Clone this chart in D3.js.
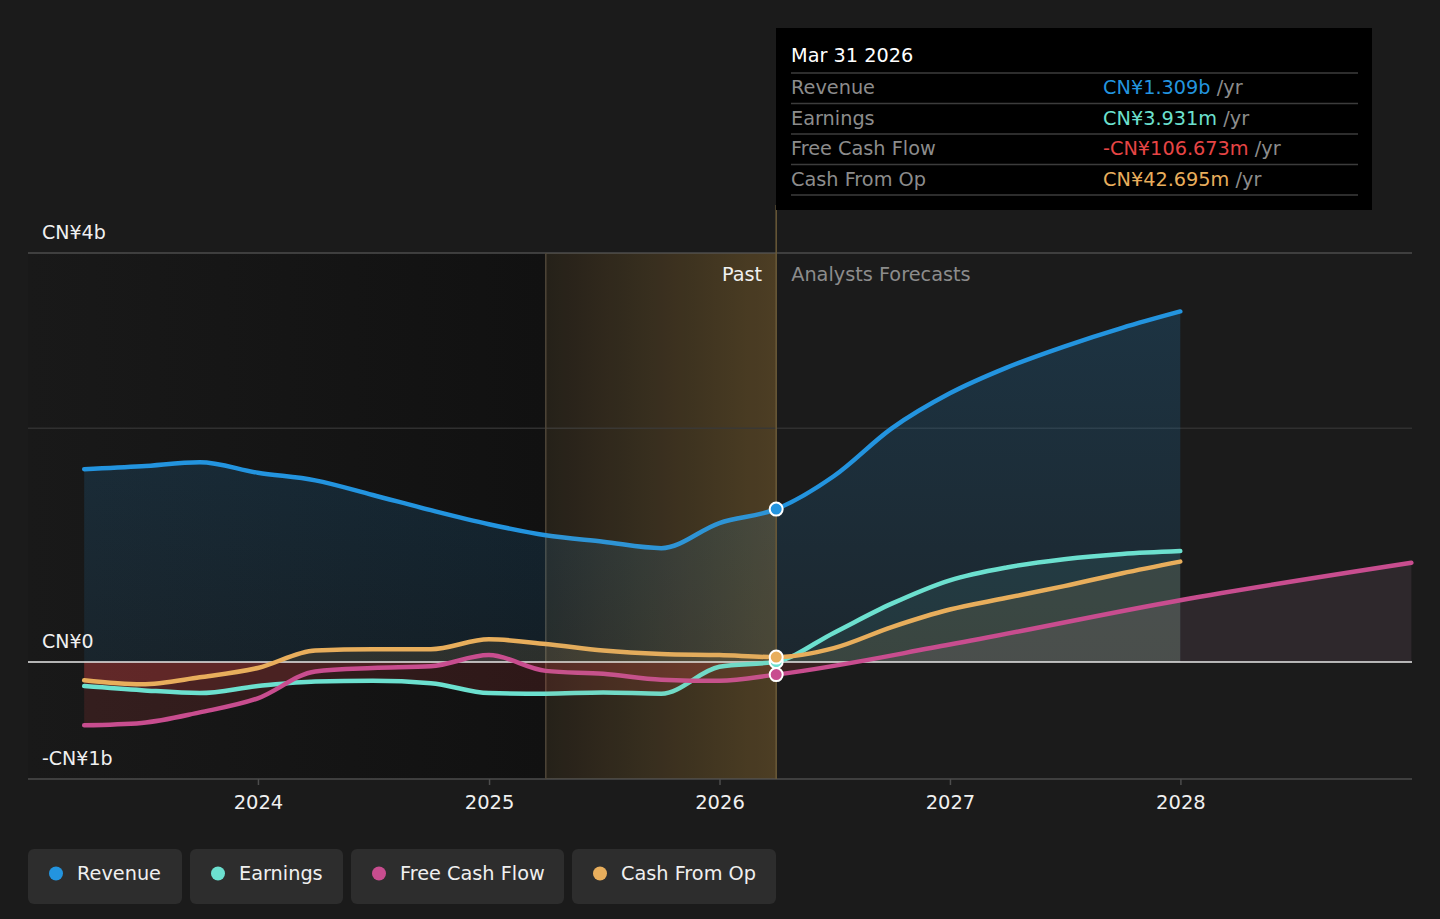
<!DOCTYPE html>
<html>
<head>
<meta charset="utf-8">
<script src="https://cdn.jsdelivr.net/npm/d3@7"></script>
<style>
    html, body { margin: 0; padding: 0; background: #1b1b1b; }
    svg { display: block; font-family: "DejaVu Sans", sans-serif; }
</style>
</head>
<body>
<div id="chart"></div>
<script>
// values in CN¥ billions
const pastDates = ["2023-03-31", "2023-06-30", "2023-09-30", "2023-12-31", "2024-03-31", "2024-06-30",
    "2024-09-30", "2024-12-31", "2025-03-31", "2025-06-30", "2025-09-30", "2025-12-31", "2026-03-31"];
const revenuePast = [1.65, 1.675, 1.71, 1.62, 1.555, 1.43, 1.30, 1.18, 1.085, 1.03, 0.975, 1.19, 1.309];
const earningsPast = [-0.205, -0.24, -0.265, -0.205, -0.165, -0.16, -0.18, -0.265, -0.27, -0.26, -0.27, -0.04, 0.004];
const fcfPast = [-0.54, -0.52, -0.43, -0.31, -0.08, -0.05, -0.035, 0.06, -0.075, -0.10, -0.15, -0.16, -0.107];
const cashOpPast = [-0.155, -0.19, -0.13, -0.05, 0.10, 0.11, 0.11, 0.195, 0.155, 0.10, 0.07, 0.06, 0.043];

const forecastDates = ["2026-03-31", "2026-06-30", "2026-09-30", "2026-12-31", "2027-03-31", "2027-06-30",
    "2027-09-30", "2027-12-31"];
const revenueForecast = [1.309, 1.59, 2.0, 2.30, 2.52, 2.70, 2.86, 3.0];
const earningsForecast = [0.004, 0.25, 0.50, 0.70, 0.81, 0.88, 0.925, 0.95];
const cashOpForecast = [0.043, 0.12, 0.30, 0.45, 0.55, 0.65, 0.76, 0.86];
const fcfForecastDates = ["2026-03-31", "2026-12-31", "2027-12-31", "2028-12-31"];
const fcfForecast = [-0.107, 0.15, 0.53, 0.85];

const seriesNames = ["Revenue", "Earnings", "Free Cash Flow", "Cash From Op"];
const seriesColors = ["#2394df", "#6ce0cf", "#c84d8f", "#e8ae5c"];
const tooltipValues = ["CN¥1.309b", "CN¥3.931m", "-CN¥106.673m", "CN¥42.695m"];
const tooltipColors = ["#2394df", "#6ce0cf", "#e64545", "#e8ae5c"];

const yTicks = [3.5, 0, -1];
const yTickLabels = ["CN¥4b", "CN¥0", "-CN¥1b"];
const yGrid = [3.5, 2, -1];
const xTicks = ["2024-01-01", "2025-01-01", "2026-01-01", "2027-01-01", "2028-01-01"];

const bandStart = "2025-03-31";
const nowDate = "2026-03-31";

function draw(container, width, height) {
    const parse = d3.utcParse("%Y-%m-%d");

    const x = d3.scaleUtc()
        .domain([parse("2023-01-01"), parse("2029-01-01")])
        .range([28, 1412]);

    const y = d3.scaleLinear()
        .domain([-1, 3.5])
        .range([779, 253]);

    const zip = (dates, vals) => dates.map((d, i) => ({date: parse(d), value: vals[i]}));

    const series = [
        zip(pastDates, revenuePast).concat(zip(forecastDates, revenueForecast).slice(1)),
        zip(pastDates, earningsPast).concat(zip(forecastDates, earningsForecast).slice(1)),
        zip(pastDates, fcfPast).concat(zip(fcfForecastDates, fcfForecast).slice(1)),
        zip(pastDates, cashOpPast).concat(zip(forecastDates, cashOpForecast).slice(1))
    ];

    const svg = d3.select(container).append("svg")
        .attr("width", width)
        .attr("height", height);

    const defs = svg.append("defs");

    const pastGrad = defs.append("linearGradient").attr("id", "pastGrad");
    pastGrad.append("stop").attr("offset", "0%").attr("stop-color", "#191919");
    pastGrad.append("stop").attr("offset", "100%").attr("stop-color", "#111111");

    const bandGrad = defs.append("linearGradient").attr("id", "bandGrad");
    bandGrad.append("stop").attr("offset", "0%").attr("stop-color", "#1a1713");
    bandGrad.append("stop").attr("offset", "100%").attr("stop-color", "#45371f");

    const revGrad = defs.append("linearGradient").attr("id", "revGrad")
        .attr("x1", 0).attr("x2", 0).attr("y1", 0).attr("y2", 1);
    revGrad.append("stop").attr("offset", "0%").attr("stop-color", "#2394df").attr("stop-opacity", 0.2);
    revGrad.append("stop").attr("offset", "100%").attr("stop-color", "#2394df").attr("stop-opacity", 0.1);

    const x0 = x.range()[0], x1 = x.range()[1];

    defs.append("clipPath").attr("id", "above")
        .append("rect")
        .attr("x", x0).attr("y", y(3.5))
        .attr("width", x1 - x0).attr("height", y(0) - y(3.5));
    defs.append("clipPath").attr("id", "below")
        .append("rect")
        .attr("x", x0).attr("y", y(0))
        .attr("width", x1 - x0).attr("height", y(-1) - y(0));

    // past background and the shaded last year
    svg.append("rect")
        .attr("x", x0).attr("y", y(3.5))
        .attr("width", x(parse(bandStart)) - x0)
        .attr("height", y(-1) - y(3.5))
        .attr("fill", "url(#pastGrad)");
    svg.append("rect")
        .attr("x", x(parse(bandStart))).attr("y", y(3.5))
        .attr("width", x(parse(nowDate)) - x(parse(bandStart)))
        .attr("height", y(-1) - y(3.5))
        .attr("fill", "url(#bandGrad)");

    svg.selectAll("line.grid")
        .data(yGrid)
        .enter().append("line")
            .attr("class", "grid")
            .attr("x1", x0).attr("x2", x1)
            .attr("y1", d => y(d)).attr("y2", d => y(d))
            .attr("stroke", d => d === 2 ? "#303030" : "#4d4d4d")
            .attr("stroke-width", 1.5);

    svg.append("line")
        .attr("x1", x(parse(bandStart))).attr("x2", x(parse(bandStart)))
        .attr("y1", y(3.5)).attr("y2", y(-1))
        .attr("stroke", "#4a4236").attr("stroke-width", 1.5);

    // areas
    const area = d3.area()
        .curve(d3.curveMonotoneX)
        .x(d => x(d.date))
        .y0(y(0))
        .y1(d => y(d.value));

    const fills = ["url(#revGrad)", "#6ce0cf", "#d8a0c0", "#e8ae5c"];
    const opac = [1, 0.09, 0.1, 0.12];
    series.forEach((s, i) => {
        svg.append("path")
            .datum(s)
            .attr("clip-path", "url(#above)")
            .attr("fill", fills[i])
            .attr("fill-opacity", opac[i])
            .attr("d", area);
        svg.append("path")
            .datum(s)
            .attr("clip-path", "url(#below)")
            .attr("fill", "#e64545")
            .attr("fill-opacity", 0.14)
            .attr("d", area);
    });

    svg.append("line")
        .attr("x1", x0).attr("x2", x1)
        .attr("y1", y(0)).attr("y2", y(0))
        .attr("stroke", "#e8e8e8").attr("stroke-width", 1.5);

    const line = d3.line()
        .curve(d3.curveMonotoneX)
        .x(d => x(d.date))
        .y(d => y(d.value));

    [1, 3, 2, 0].forEach(i => {
        svg.append("path")
            .datum(series[i])
            .attr("fill", "none")
            .attr("stroke", seriesColors[i])
            .attr("stroke-width", 4.5)
            .attr("stroke-linecap", "round")
            .attr("d", line);
    });

    // soften lines inside the shaded band
    svg.append("rect")
        .attr("x", x(parse(bandStart))).attr("y", y(3.5))
        .attr("width", x(parse(nowDate)) - x(parse(bandStart)))
        .attr("height", y(-1) - y(3.5))
        .attr("fill", "#b89a66")
        .attr("fill-opacity", 0.08);

    svg.append("line")
        .attr("x1", x(parse(nowDate))).attr("x2", x(parse(nowDate)))
        .attr("y1", 205).attr("y2", y(-1))
        .attr("stroke", "#6b5a38").attr("stroke-width", 1.5);

    // markers at the tooltip date
    const nowIdx = pastDates.indexOf(nowDate);
    [1, 3, 2, 0].forEach(i => {
        svg.append("circle")
            .attr("cx", x(series[i][nowIdx].date))
            .attr("cy", y(series[i][nowIdx].value))
            .attr("r", 6.5)
            .attr("fill", seriesColors[i])
            .attr("stroke", "#fff")
            .attr("stroke-width", 2);
    });

    // axes
    svg.selectAll("text.ylab")
        .data(yTicks)
        .enter().append("text")
            .attr("class", "ylab")
            .attr("x", 42)
            .attr("y", d => y(d) - 14)
            .attr("fill", "#f0f0f0")
            .attr("font-size", 19)
            .text((d, i) => yTickLabels[i]);

    const xt = svg.selectAll("g.xt")
        .data(xTicks.map(parse))
        .enter().append("g")
            .attr("class", "xt")
            .attr("transform", d => `translate(${x(d)},${y(-1)})`);
    xt.append("line").attr("y2", 6).attr("stroke", "#4d4d4d").attr("stroke-width", 1.5);
    xt.append("text")
        .attr("y", 30)
        .attr("text-anchor", "middle")
        .attr("fill", "#f0f0f0")
        .attr("font-size", 19.5)
        .text(d => d3.utcFormat("%Y")(d));

    svg.append("text")
        .attr("x", x(parse(nowDate)) - 14).attr("y", 281)
        .attr("text-anchor", "end")
        .attr("fill", "#f0f0f0").attr("font-size", 19.3)
        .text("Past");
    svg.append("text")
        .attr("x", x(parse(nowDate)) + 15).attr("y", 281)
        .attr("fill", "#8c8c8c").attr("font-size", 19.3)
        .text("Analysts Forecasts");

    // tooltip
    const tip = svg.append("g").attr("transform", "translate(776,28)");
    tip.append("rect").attr("width", 596).attr("height", 182).attr("fill", "#000");
    tip.append("text")
        .attr("x", 15).attr("y", 34)
        .attr("fill", "#fff").attr("font-size", 19.3)
        .text("Mar 31 2026");
    const row = tip.selectAll("g.row")
        .data(seriesNames)
        .enter().append("g")
            .attr("class", "row")
            .attr("transform", (d, i) => `translate(15,${45 + i * 30.5})`);
    row.append("line")
        .attr("x2", 567)
        .attr("stroke", "#3c3c3c").attr("stroke-width", 1.5);
    row.append("text")
        .attr("y", 21)
        .attr("fill", "#8c8c8c").attr("font-size", 19.3)
        .text(d => d);
    const val = row.append("text")
        .attr("x", 312).attr("y", 21)
        .attr("font-size", 19.3);
    val.append("tspan")
        .attr("fill", (d, i) => tooltipColors[i])
        .text((d, i) => tooltipValues[i]);
    val.append("tspan")
        .attr("fill", "#8c8c8c")
        .text(" /yr");
    tip.append("line")
        .attr("x1", 15).attr("x2", 582)
        .attr("y1", 167).attr("y2", 167)
        .attr("stroke", "#3c3c3c").attr("stroke-width", 1.5);

    // legend
    const legendX = [28, 190, 351, 572];
    const legendW = [154, 153, 213, 204];
    const leg = svg.selectAll("g.leg")
        .data(seriesNames)
        .enter().append("g")
            .attr("class", "leg")
            .attr("transform", (d, i) => `translate(${legendX[i]},849)`);
    leg.append("rect")
        .attr("width", (d, i) => legendW[i]).attr("height", 55)
        .attr("rx", 6)
        .attr("fill", "#2d2d2d");
    leg.append("circle")
        .attr("cx", 28).attr("cy", 24.5).attr("r", 7)
        .attr("fill", (d, i) => seriesColors[i]);
    leg.append("text")
        .attr("x", 49).attr("y", 31)
        .attr("fill", "#f0f0f0").attr("font-size", 19.3)
        .text(d => d);
}

draw("#chart", 1440, 919);
</script>
</body>
</html>
